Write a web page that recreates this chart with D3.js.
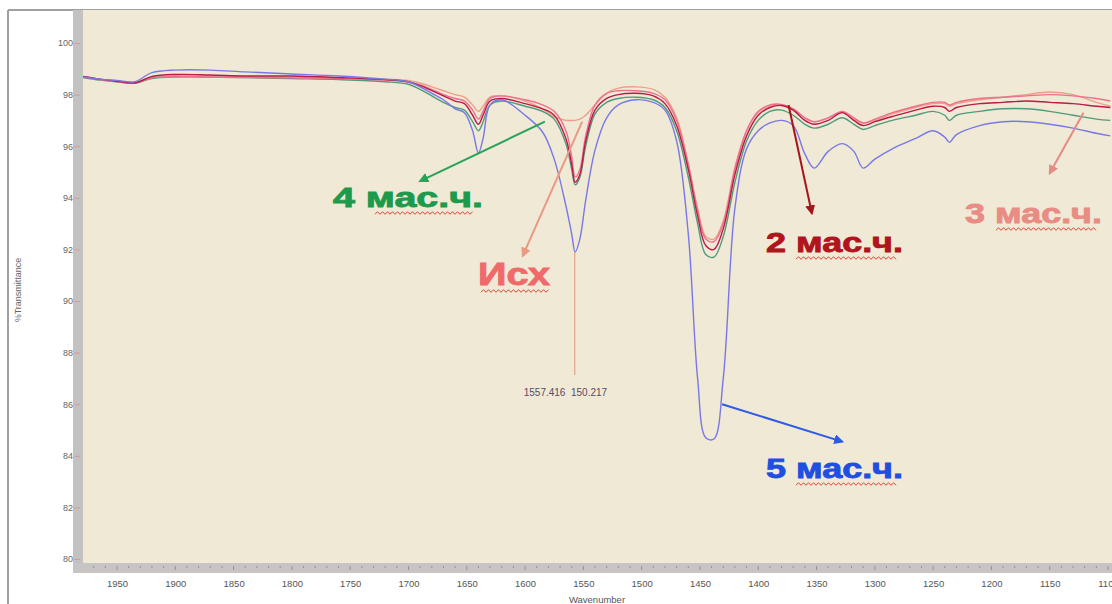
<!DOCTYPE html>
<html>
<head>
<meta charset="utf-8">
<script src="https://cdn.jsdelivr.net/npm/d3@7"></script>
<style>
  body { margin: 0; background: #fff; }
  svg { display: block; }
</style>
</head>
<body>
<div id="chart"></div>
<script>
// wavenumbers (cm-1), shared by all spectra
const wavenumbers = [1979,1965,1950,1935,1920,1900,1870,1840,1800,1760,1720,1700,1690,1680,1670,1660,1652,1645,1640,1636,1630,1620,1600,1585,1575,1565,1560,1557,1553,1548,1540,1530,1520,1505,1490,1480,1470,1460,1452,1445,1438,1430,1420,1410,1400,1390,1380,1370,1360,1352,1340,1328,1318,1310,1300,1285,1265,1250,1240,1236,1230,1210,1190,1170,1150,1130,1110,1098];

// %Transmittance
const ish = [98.7,98.6,98.52,98.47,98.66,98.72,98.72,98.7,98.68,98.65,98.6,98.55,98.45,98.3,98.15,98.0,97.9,97.6,97.35,97.55,97.9,97.95,97.75,97.45,97.15,97.0,97.0,97.0,97.05,97.2,97.6,98.05,98.25,98.3,98.2,97.9,97.1,95.3,93.6,92.5,92.4,93.1,95.2,96.6,97.3,97.55,97.6,97.45,97.1,96.95,97.1,97.3,97.05,96.9,97.0,97.25,97.5,97.65,97.65,97.55,97.65,97.8,97.9,98.0,98.1,98.0,97.7,97.55];
const m2 = [98.7,98.6,98.52,98.45,98.7,98.78,98.76,98.72,98.72,98.66,98.58,98.5,98.35,98.15,97.95,97.75,97.65,97.2,96.85,97.2,97.75,97.85,97.65,97.45,97.2,96.3,95.3,94.6,94.9,96.2,97.4,97.85,98.0,98.05,97.95,97.65,96.8,95.1,93.3,92.15,92.0,92.8,94.9,96.4,97.2,97.5,97.58,97.4,97.0,96.85,97.0,97.3,97.0,96.8,96.95,97.15,97.4,97.55,97.5,97.35,97.5,97.65,97.7,97.75,97.7,97.65,97.55,97.5];
const m3 = [98.68,98.58,98.5,98.45,98.65,98.7,98.68,98.66,98.65,98.62,98.56,98.48,98.38,98.2,98.0,97.85,97.75,97.4,97.05,97.35,97.85,97.95,97.8,97.6,97.35,96.6,95.6,94.8,95.1,96.4,97.6,98.05,98.15,98.15,98.05,97.8,97.0,95.3,93.5,92.4,92.3,93.0,95.1,96.6,97.35,97.6,97.62,97.45,97.1,96.95,97.1,97.35,97.1,96.9,97.05,97.3,97.55,97.7,97.7,97.6,97.7,97.85,97.9,97.95,98.0,97.95,97.85,97.75];
const m4 = [98.66,98.56,98.5,98.44,98.62,98.68,98.68,98.66,98.62,98.58,98.5,98.4,98.2,97.95,97.7,97.5,97.4,96.95,96.6,96.95,97.6,97.75,97.55,97.35,97.05,96.1,95.1,94.5,94.8,96.0,97.25,97.7,97.85,97.9,97.8,97.5,96.6,94.8,93.0,91.8,91.7,92.5,94.6,96.2,97.0,97.35,97.4,97.2,96.85,96.7,96.85,97.1,96.85,96.65,96.8,97.0,97.2,97.35,97.2,97.0,97.2,97.35,97.45,97.45,97.35,97.2,97.05,97.0];
const m5 = [98.68,98.6,98.55,98.5,98.85,98.95,98.95,98.88,98.8,98.72,98.6,98.5,98.3,98.05,97.8,97.45,97.3,96.6,95.74,96.3,97.6,97.8,97.2,96.55,95.5,93.7,92.6,91.9,92.4,93.9,95.85,97.1,97.6,97.8,97.7,97.4,96.2,92.6,87.0,84.7,84.65,87.0,93.6,95.9,96.6,96.9,97.0,96.8,95.7,95.15,95.8,96.1,95.8,95.15,95.5,95.9,96.3,96.6,96.35,96.15,96.45,96.8,96.95,96.95,96.85,96.7,96.5,96.4];

const seriesNames = ["Исх", "2 мас.ч.", "3 мас.ч.", "4 мас.ч.", "5 мас.ч."];
const seriesValues = [ish, m2, m3, m4, m5];
const lineColors = ["#eda089", "#b81c47", "#ee6f8e", "#4f9b7c", "#7a78e6"];

const xTicks = [1950,1900,1850,1800,1750,1700,1650,1600,1550,1500,1450,1400,1350,1300,1250,1200,1150,1100];
const yTicks = [80,82,84,86,88,90,92,94,96,98,100];

// peak marker
const peakWave = 1557.416;
const peakText = "1557.416  150.217";

const width = 1112, height = 604;
const plot = { left: 83, top: 10, right: 1112, bottom: 563 };

const svg = d3.select("#chart").append("svg")
    .attr("width", width)
    .attr("height", height)
    .style("font-family", "'Liberation Sans', Arial, sans-serif");

// outer frame lines
svg.append("line").attr("x1", 8).attr("x2", width).attr("y1", 10).attr("y2", 10)
    .attr("stroke", "#a0a0a0").attr("stroke-width", 2);
svg.append("line").attr("x1", 8).attr("x2", 8).attr("y1", 10).attr("y2", height)
    .attr("stroke", "#a0a0a0").attr("stroke-width", 2);

// gray axis strips
svg.append("rect").attr("x", 73).attr("y", 10).attr("width", 10).attr("height", 565 - 10)
    .attr("fill", "#c4c2c0");
svg.append("rect").attr("x", 73).attr("y", 563).attr("width", width - 73).attr("height", 10)
    .attr("fill", "#c8c4c4");

// plot background
svg.append("rect")
    .attr("x", plot.left).attr("y", plot.top)
    .attr("width", plot.right - plot.left).attr("height", plot.bottom - plot.top)
    .attr("fill", "#efe9d6");

const x = d3.scaleLinear().domain([1950, 1100]).range([117, 1108]);
const y = d3.scaleLinear().domain([80, 100]).range([559, 43]);

// y axis
const yAxis = svg.append("g")
    .attr("transform", `translate(${80},0)`)
    .call(d3.axisLeft(y).tickValues(yTicks).tickSize(6).tickPadding(1).tickFormat(d3.format("d")));
yAxis.select(".domain").remove();
yAxis.selectAll("line").attr("stroke", "#d89a9a");
yAxis.selectAll("text").attr("fill", "#666").attr("font-size", 9).attr("font-family", "'Liberation Sans', Arial, sans-serif");

// x axis: minor ticks every 10, labels every 50
const xMinor = d3.range(1970, 1095, -10);
svg.append("g")
    .selectAll("line")
    .data(xMinor)
    .join("line")
    .attr("x1", d => x(d)).attr("x2", d => x(d))
    .attr("y1", 566).attr("y2", d => d % 50 === 0 ? 570 : 568)
    .attr("stroke", "#9a8f98").attr("stroke-width", 1);

const xAxis = svg.append("g")
    .attr("transform", `translate(0,${573})`)
    .call(d3.axisBottom(x).tickValues(xTicks).tickSize(0).tickPadding(7).tickFormat(d3.format("d")));
xAxis.select(".domain").remove();
xAxis.selectAll("text").attr("fill", "#555").attr("font-size", 9.5).attr("font-family", "'Liberation Sans', Arial, sans-serif");

// axis titles
svg.append("text")
    .attr("transform", `translate(21,${290}) rotate(-90)`)
    .attr("text-anchor", "middle")
    .attr("font-size", 9)
    .attr("fill", "#666")
    .text("%Transmittance");
svg.append("text")
    .attr("x", 597).attr("y", 603)
    .attr("text-anchor", "middle")
    .attr("font-size", 9.5)
    .attr("fill", "#555")
    .text("Wavenumber");

// spectra
svg.append("clipPath").attr("id", "clip")
    .append("rect")
    .attr("x", plot.left).attr("y", plot.top)
    .attr("width", plot.right - plot.left).attr("height", plot.bottom - plot.top);

const line = d3.line()
    .x(d => x(d[0]))
    .y(d => y(d[1]))
    .curve(d3.curveCatmullRom.alpha(0.5));

const drawOrder = [3, 0, 2, 1, 4];
svg.append("g")
    .attr("clip-path", "url(#clip)")
    .selectAll("path")
    .data(drawOrder)
    .join("path")
    .attr("d", i => line(wavenumbers.map((w, k) => [w, seriesValues[i][k]])))
    .attr("fill", "none")
    .attr("stroke", i => lineColors[i])
    .attr("stroke-width", 1.4)
    .attr("stroke-linejoin", "round");

// peak marker line + label
svg.append("line")
    .attr("x1", x(peakWave)).attr("x2", x(peakWave))
    .attr("y1", y(91.9)).attr("y2", 375)
    .attr("stroke", "#e2a48c").attr("stroke-width", 1.2);
svg.append("text")
    .attr("x", x(peakWave) - 51).attr("y", 396)
    .attr("font-size", 10)
    .attr("fill", "#5a4a66")
    .attr("xml:space", "preserve")
    .text(peakText);

// annotations: arrows and labels
const defs = svg.append("defs");
function marker(id, color) {
    defs.append("marker")
        .attr("id", id)
        .attr("viewBox", "0 0 10 10")
        .attr("refX", 8).attr("refY", 5)
        .attr("markerWidth", 5).attr("markerHeight", 5)
        .attr("orient", "auto-start-reverse")
        .append("path")
        .attr("d", "M0,0 L10,5 L0,10 z")
        .attr("fill", color);
}

const labels = [
    { text: "4 мас.ч.", color: "#1e9a4c", arrow: "#2aa35a", from: [1583, 96.95], to: [1690, 94.65], tx: 333, ty: 207, len: 150, size: 28, ul: [375, 473] },
    { text: "Исх", color: "#f06a6a", arrow: "#e89a82", from: [1551, 96.95], to: [1602, 91.75], tx: 478, ty: 285, len: 72, size: 31, ul: [481, 549] },
    { text: "2 мас.ч.", color: "#b0141c", arrow: "#a8141c", from: [1374, 97.6], to: [1354, 93.4], tx: 766, ty: 252, len: 137, size: 28, ul: [796, 896] },
    { text: "3 мас.ч.", color: "#e98c84", arrow: "#e48c84", from: [1121, 97.3], to: [1150, 94.95], tx: 965, ty: 223, len: 137, size: 28, ul: [996, 1096] },
    { text: "5 мас.ч.", color: "#1f4fe0", arrow: "#2d5ae6", from: [1431, 86.0], to: [1328, 84.55], tx: 766, ty: 478, len: 137, size: 28, ul: [796, 896] }
];

labels.forEach((l, i) => {
    marker("arr" + i, l.arrow);
    svg.append("line")
        .attr("x1", x(l.from[0])).attr("y1", y(l.from[1]))
        .attr("x2", x(l.to[0])).attr("y2", y(l.to[1]))
        .attr("stroke", l.arrow)
        .attr("stroke-width", 2)
        .attr("marker-end", `url(#arr${i})`);

    svg.append("text")
        .attr("x", l.tx).attr("y", l.ty)
        .attr("font-size", l.size)
        .attr("font-weight", "bold")
        .attr("fill", l.color)
        .attr("stroke", l.color)
        .attr("stroke-width", 0.9)
        .attr("textLength", l.len)
        .attr("lengthAdjust", "spacingAndGlyphs")
        .text(l.text);

    // red wavy spell-check underline
    const pts = d3.range(l.ul[0], l.ul[1] + 0.1, 2.5).map((px, k) => [px, l.ty + 6 + (k % 2 ? -1.3 : 1.3)]);
    svg.append("path")
        .attr("d", d3.line()(pts))
        .attr("fill", "none")
        .attr("stroke", "#e0443c")
        .attr("stroke-width", 1);
});
</script>
</body>
</html>
